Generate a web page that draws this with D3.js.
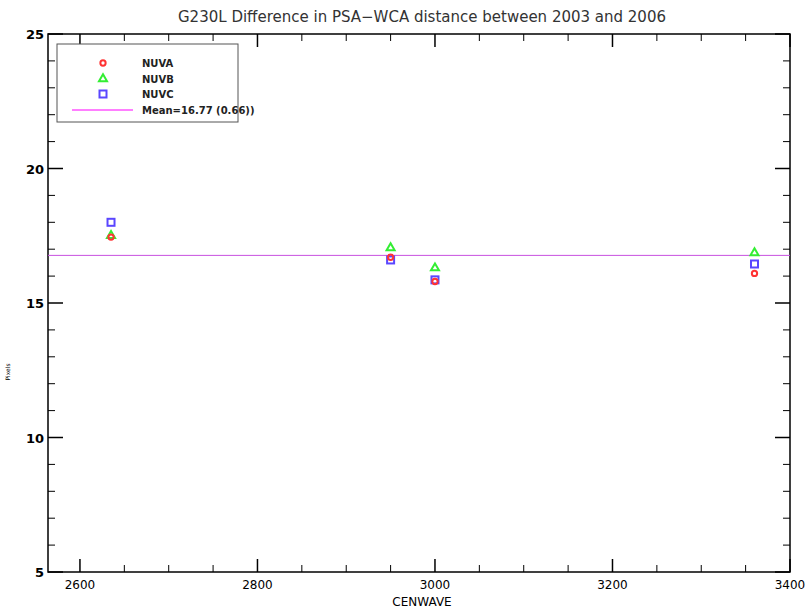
<!DOCTYPE html>
<html>
<head>
<meta charset="utf-8">
<script src="https://cdn.jsdelivr.net/npm/d3@7"></script>
<style>
body { margin: 0; background: #fff; }
text { font-family: "DejaVu Sans", sans-serif; }
</style>
</head>
<body>
<svg id="chart" width="811" height="614"></svg>
<script>
// data
var cenwave = [2635, 2950, 3000, 3360];
var nuva = [17.45, 16.7, 15.8, 16.1];
var nuvb = [17.5, 17.05, 16.3, 16.86];
var nuvc = [18.0, 16.6, 15.86, 16.45];
var meanVal = 16.77;
var xTicks = [2600, 2800, 3000, 3200, 3400];
var yTicks = [5, 10, 15, 20, 25];
var legendNames = ["NUVA", "NUVB", "NUVC", "Mean=16.77 (0.66))"];

var svg = d3.select("#chart");
var pl = 48, pr = 790, pt = 34, pb = 572;

var x = d3.scaleLinear().domain([2564, 3400]).range([pl, pr]);
var y = d3.scaleLinear().domain([5, 25]).range([pb, pt]);

// frame
svg.append("rect")
    .attr("x", pl).attr("y", pt)
    .attr("width", pr - pl).attr("height", pb - pt)
    .attr("fill", "none").attr("stroke", "#000").attr("stroke-width", 1.5);

// ticks, major + minor, on all four sides
var xMinor = d3.range(2600, 3401, 50);
var yMinor = d3.range(5, 26, 1);

xMinor.forEach(function(v){
    var big = xTicks.indexOf(v) >= 0;
    var len = big ? 13 : 7;
    svg.append("line").attr("x1", x(v)).attr("x2", x(v))
        .attr("y1", pb).attr("y2", pb - len)
        .attr("stroke", "#000").attr("stroke-width", big ? 1.5 : 1);
    svg.append("line").attr("x1", x(v)).attr("x2", x(v))
        .attr("y1", pt).attr("y2", pt + len)
        .attr("stroke", "#000").attr("stroke-width", big ? 1.5 : 1);
});
yMinor.forEach(function(v){
    var big = yTicks.indexOf(v) >= 0;
    var len = big ? 15 : 7;
    svg.append("line").attr("x1", pl).attr("x2", pl + len)
        .attr("y1", y(v)).attr("y2", y(v))
        .attr("stroke", "#000").attr("stroke-width", big ? 1.5 : 1);
    svg.append("line").attr("x1", pr).attr("x2", pr - len)
        .attr("y1", y(v)).attr("y2", y(v))
        .attr("stroke", "#000").attr("stroke-width", big ? 1.5 : 1);
});

// tick labels
svg.selectAll(".xl").data(xTicks).enter().append("text")
    .attr("x", function(d){ return x(d); })
    .attr("y", pb + 17)
    .attr("text-anchor", "middle")
    .attr("font-size", 12)
    .text(function(d){ return d; });
svg.selectAll(".yl").data(yTicks).enter().append("text")
    .attr("x", pl - 4)
    .attr("y", function(d){ return y(d) + 5; })
    .attr("text-anchor", "end")
    .attr("font-size", 13).attr("font-weight", "bold")
    .text(function(d){ return d; });

// titles
svg.append("text").attr("x", 422).attr("y", 22)
    .attr("text-anchor", "middle").attr("font-size", 15).attr("fill", "#333")
    .text("G230L Difference in PSA\u2212WCA distance between 2003 and 2006");
svg.append("text").attr("x", 422).attr("y", 606)
    .attr("text-anchor", "middle").attr("font-size", 12)
    .text("CENWAVE");
svg.append("text")
    .attr("transform", "translate(10," + 372 + ") rotate(-90)")
    .attr("text-anchor", "middle").attr("font-size", 6)
    .text("Pixels");

// mean line
svg.append("line")
    .attr("x1", pl).attr("x2", pr)
    .attr("y1", y(meanVal)).attr("y2", y(meanVal))
    .attr("stroke", "#c850e0").attr("stroke-width", 1);

// markers
var sym = {
    circle: d3.symbol().type(d3.symbolCircle).size(22),
    triangle: d3.symbol().type(d3.symbolTriangle).size(28)
};
function drawSeries(vals, kind, color){
    vals.forEach(function(v, i){
        var px = x(cenwave[i]), py = y(v);
        if (kind == "square") {
            svg.append("rect").attr("x", px - 3.5).attr("y", py - 3.5)
                .attr("width", 7).attr("height", 7)
                .attr("fill", "none").attr("stroke", color).attr("stroke-width", 2);
        } else {
            svg.append("path").attr("d", sym[kind]())
                .attr("transform", "translate(" + px + "," + py + ")")
                .attr("fill", "none").attr("stroke", color).attr("stroke-width", 2);
        }
    });
}
drawSeries(nuvc, "square", "#5a46ff");
drawSeries(nuvb, "triangle", "#33ee33");
drawSeries(nuva, "circle", "#ff3333");

// legend
var lg = svg.append("g");
lg.append("rect").attr("x", 57).attr("y", 44).attr("width", 181).attr("height", 78)
    .attr("fill", "#fff").attr("stroke", "#555").attr("stroke-width", 1);
var rows = [63, 79, 94, 110];
lg.append("path").attr("d", sym.circle()).attr("transform", "translate(103," + rows[0] + ")")
    .attr("fill", "none").attr("stroke", "#ff3333").attr("stroke-width", 2);
lg.append("path").attr("d", sym.triangle()).attr("transform", "translate(103," + rows[1] + ")")
    .attr("fill", "none").attr("stroke", "#33ee33").attr("stroke-width", 2);
lg.append("rect").attr("x", 99.5).attr("y", rows[2] - 3.5).attr("width", 7).attr("height", 7)
    .attr("fill", "none").attr("stroke", "#5a46ff").attr("stroke-width", 2);
lg.append("line").attr("x1", 72).attr("x2", 133).attr("y1", rows[3]).attr("y2", rows[3])
    .attr("stroke", "#ff55ff").attr("stroke-width", 1.5);
legendNames.forEach(function(n, i){
    lg.append("text").attr("x", 142).attr("y", rows[i] + 4)
        .attr("font-size", 10).attr("font-weight", "bold").attr("fill", "#222")
        .text(n);
});
</script>
</body>
</html>
